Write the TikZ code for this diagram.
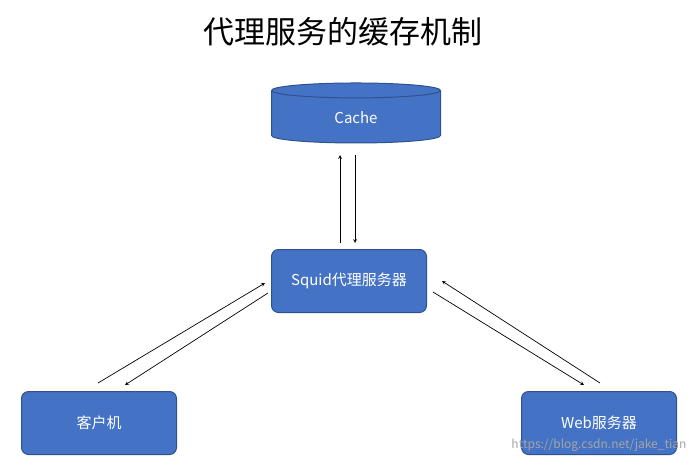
\documentclass[tikz,border=0pt]{standalone}
\usepackage{fontspec}
\setmainfont{Noto Sans CJK SC}
\usetikzlibrary{shapes.geometric}
\definecolor{fillb}{HTML}{4472C4}
\definecolor{edgeb}{HTML}{2F528F}
\begin{document}
\begin{tikzpicture}[x=1pt,y=-1pt,
  box/.style={draw=edgeb,fill=fillb,line width=1pt,rounded corners=7pt,text=white,font=\fontsize{15}{18}\selectfont,minimum width=155pt,minimum height=63pt},
  arr/.style={-stealth,line width=0.7pt}]
\useasboundingbox (0,0) rectangle (700,466);
\node (title) at (343,32) {\fontsize{31}{36}\selectfont 代理服务的缓存机制};
\node[cylinder,shape border rotate=90,aspect=0.3,draw=edgeb,fill=fillb,line width=1pt,text=white,font=\fontsize{15}{18}\selectfont,minimum width=169pt,minimum height=60pt] (cache) at (356,118) {Cache};
\node[box] (squid) at (349,281) {Squid代理服务器};
\node[box] (client) at (99,423) {客户机};
\node[box] (web) at (599,423) {Web服务器};
\coordinate (v1) at (340,243); \coordinate (v2) at (340,155);
\coordinate (v3) at (355,155); \coordinate (v4) at (355,243);
\draw[arr] (v1) -- (v2);
\draw[arr] (v3) -- (v4);
\coordinate (c1) at (98,383); \coordinate (s1) at (265,283);
\coordinate (s2) at (268,293); \coordinate (c2) at (125,385);
\draw[arr] (c1) -- (s1);
\draw[arr] (s2) -- (c2);
\coordinate (s3) at (442,281); \coordinate (w1) at (600,383);
\coordinate (w2) at (584,385); \coordinate (s4) at (433,292);
\draw[arr] (w1) -- (s3);
\draw[arr] (s4) -- (w2);
\node[text=gray!70,font=\fontsize{12}{14}\selectfont,anchor=east] (wm) at (690,445) {https://blog.csdn.net/jake\_tian};
\end{tikzpicture}
\end{document}
